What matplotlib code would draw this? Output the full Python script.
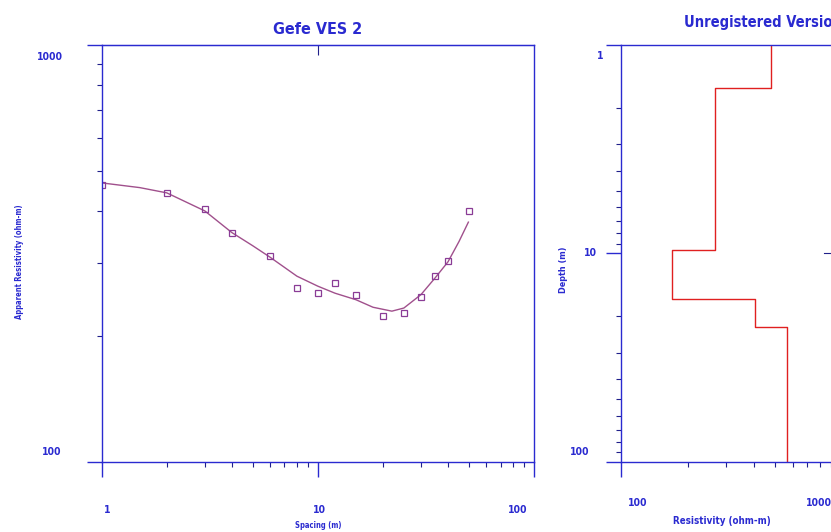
import numpy as np
import matplotlib
matplotlib.use("Agg")
import matplotlib.pyplot as plt
from matplotlib.ticker import LogLocator, NullFormatter

plt.rcParams['font.family'] = ['DejaVu Sans']
plt.rcParams['font.stretch'] = 'condensed'
plt.rcParams['font.weight'] = 'bold'

# field data (Gefe VES 2)
spacing = [1, 2, 3, 4, 6, 8, 10, 12, 15, 20, 25, 30, 35, 40, 50]
app_res = [461, 442, 404, 354, 312, 261, 254, 269, 251, 224, 228, 249, 279, 303, 400]

# calculated curve
curve_ab = [1, 1.5, 2, 3, 4, 5, 6, 7, 8, 10, 12, 15, 18, 22, 25, 30, 35, 40, 45, 49.7]
curve_res = [467, 455, 442, 400, 355, 330, 310, 293, 279, 264, 254, 245, 235, 230, 234, 252, 277, 302, 338, 376]

# layer model
layer_res = [477, 266, 170, 403, 566]
layer_bottoms = [1.6, 9.67, 16.6, 22.6]

BLUE = '#2a2ad0'
TICK = '#20208a'

fig = plt.figure(figsize=(8.31, 5.32), dpi=100)
ax = fig.add_axes([0.1224, 0.1316, 0.5202, 0.7838])
ax2 = fig.add_axes([0.7478, 0.1316, 0.5295, 0.7838])

# ---- left panel: sounding curve ----
ax.plot(curve_ab, curve_res, color='#a0508c', lw=1.0)
ax.plot(spacing, app_res, ls='none', marker='s', ms=4.8, mfc='none', mec='#8a3c96', mew=0.9)
ax.set_xscale('log')
ax.set_yscale('log')
ax.set_xlim(1, 100)
ax.set_ylim(100, 1000)

# ---- right panel: layer model ----
d = [1] + list(np.repeat(layer_bottoms, 2)) + [100]
r = list(np.repeat(layer_res, 2))
ax2.plot(r, d, color='#e02020', lw=1.0)
ax2.set_xscale('log')
ax2.set_yscale('log')
ax2.set_xlim(100, 10000)
ax2.set_ylim(100, 1)
ax2.axhline(10, xmin=0.46, xmax=0.5, color=TICK, lw=0.8)

for a in (ax, ax2):
    for s in a.spines.values():
        s.set_color(BLUE)
        s.set_linewidth(1.0)
    a.xaxis.set_major_locator(LogLocator(base=10))
    a.yaxis.set_major_locator(LogLocator(base=10))
    a.xaxis.set_minor_locator(LogLocator(base=10, subs=np.arange(2, 10)))
    a.yaxis.set_minor_locator(LogLocator(base=10, subs=np.arange(2, 10)))
    a.xaxis.set_minor_formatter(NullFormatter())
    a.yaxis.set_minor_formatter(NullFormatter())
    a.tick_params(which='major', direction='out', length=11, width=1.0, color=BLUE,
                  labelbottom=False, labelleft=False)
    a.tick_params(which='minor', direction='out', length=3.6, width=0.8, color=TICK)

# single tick on top of left panel
top = ax.secondary_xaxis('top')
top.set_xticks([10])
top.tick_params(direction='in', length=7, color=TICK, labeltop=False)
top.xaxis.set_minor_locator(plt.NullLocator())
top.spines['top'].set_color(BLUE)

tk = dict(color=BLUE, fontsize=7.5, fontweight='bold', ha='center', va='center',
          textcoords='offset points')

# left panel tick labels
for v, dx in zip([1, 10, 100], [3.6, 1.4, -12]):
    ax.annotate(str(v), xy=(v, 0), xycoords=('data', 'axes fraction'),
                xytext=(dx, -34.5), **tk)
for v, dx, dy in zip([1000, 100], [-37, -36], [-8.6, 7.2]):
    ax.annotate(str(v), xy=(0, v), xycoords=('axes fraction', 'data'),
                xytext=(dx, dy), **tk)

# right panel tick labels
for v, dx in zip([100, 1000], [11.5, -16]):
    ax2.annotate(str(v), xy=(v, 0), xycoords=('data', 'axes fraction'),
                 xytext=(dx, -29.5), **tk)
for v, dx, dy in zip([1, 10, 100], [-15, -22, -30], [-7.9, 0, 7.2]):
    ax2.annotate(str(v), xy=(0, v), xycoords=('axes fraction', 'data'),
                 xytext=(dx, dy), **tk)

# titles and axis labels
fig.text(318 / 831, 1 - 29 / 532, 'Gefe VES 2', color=BLUE, fontsize=11.5,
         fontweight='bold', ha='center', va='center')
fig.text(684 / 831, 1 - 23 / 532, 'Unregistered Version', color=BLUE, fontsize=10.5,
         fontweight='bold', ha='left', va='center')
fig.text(20 / 831, 1 - 262 / 532, 'Apparent Resistivity (ohm-m)', color=BLUE,
         fontsize=5.5, fontweight='bold', rotation=90, ha='center', va='center')
fig.text(318 / 831, 1 - 526 / 532, 'Spacing (m)', color=BLUE, fontsize=5.5,
         fontweight='bold', ha='center', va='center')
fig.text(563 / 831, 1 - 270 / 532, 'Depth (m)', color=BLUE, fontsize=6.5,
         fontweight='bold', rotation=90, ha='center', va='center')
fig.text(722 / 831, 1 - 521 / 532, 'Resistivity (ohm-m)', color=BLUE, fontsize=7,
         fontweight='bold', ha='center', va='center')

fig.savefig('out.png', dpi=100, facecolor='white')
